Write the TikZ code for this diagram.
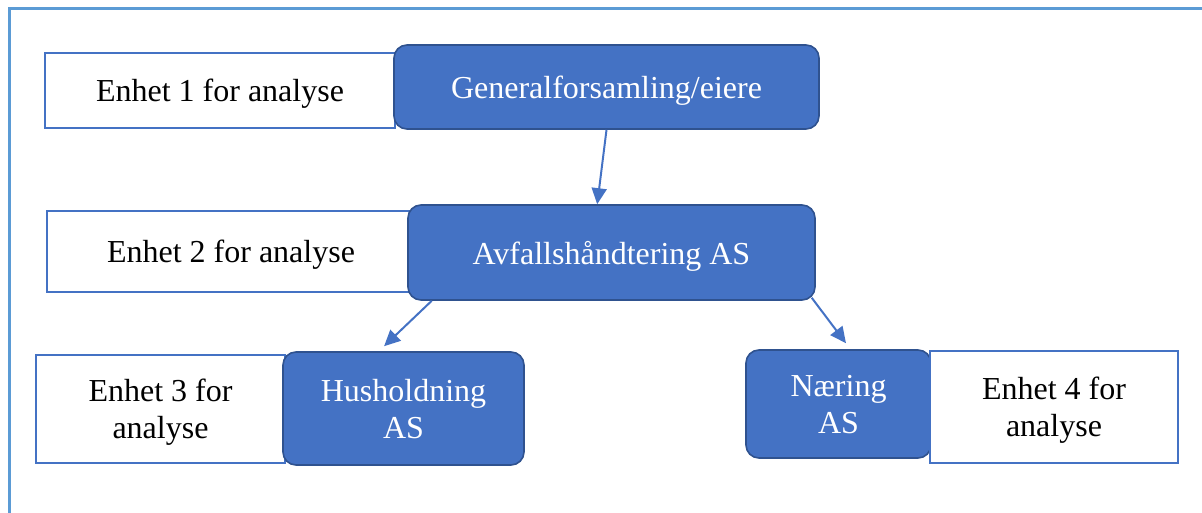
\documentclass[tikz,border=0pt]{standalone}
\usepackage{fontspec}
\setmainfont{Liberation Serif}
\usetikzlibrary{arrows.meta,calc}
\definecolor{frameblue}{HTML}{5B9BD5}
\definecolor{accent}{HTML}{4472C4}
\definecolor{accentdark}{HTML}{2F528F}
\tikzset{
  unitbox/.style={draw=accent, line width=2pt, fill=white, rectangle, inner sep=0pt,
    font=\fontsize{32}{37}\selectfont, text=black, align=center, text depth=0pt},
  orgbox/.style={draw=accentdark, line width=1.6pt, fill=accent, rectangle, rounded corners=13pt,
    inner sep=0pt, font=\fontsize{32}{37}\selectfont, text=white, align=center, text depth=0pt},
  link/.style={draw=accent, line width=2pt, -{Triangle[length=16pt,width=15pt]}}
}
\newcommand{\boxat}[7]{% name, style, x1,y1,x2,y2, text
  \node[#2, minimum width={(#5-#3)*1pt}, minimum height={(#6-#4)*1pt}] (#1) at ({(#3+#5)/2},{(#4+#6)/2}) {#7};}
\begin{document}
\begin{tikzpicture}[x=1pt,y=-1pt]
\useasboundingbox (0,0) rectangle (1202,513);
\draw[frameblue, line width=3pt] (9,515) -- (9,9) -- (1204,9);
% row 1
\boxat{u1}{unitbox}{45}{53}{395}{128}{Enhet 1 for analyse}
\boxat{g}{orgbox}{394}{45}{819}{129}{Generalforsamling/eiere}
% row 2
\boxat{u2}{unitbox}{47}{211}{415}{292}{Enhet 2 for analyse}
\boxat{a}{orgbox}{408}{205}{815}{300}{Avfallshåndtering AS}
% row 3 left
\boxat{u3}{unitbox}{36}{355}{285}{463}{Enhet 3 for\\analyse}
\boxat{h}{orgbox}{283}{352}{524}{465}{Husholdning\\AS}
% row 3 right
\boxat{n}{orgbox}{746}{350}{931}{458}{Næring\\AS}
\boxat{u4}{unitbox}{930}{351}{1178}{463}{Enhet 4 for\\analyse}
% connectors
\draw[link] ($(g.south west)!0.50!(g.south east)$) -- ($(a.north west)!0.465!(a.north east)$);
\draw[link] ($(a.south west)!0.06!(a.south east)$) -- ($(h.north west)!0.42!(h.north east)+(0,-5)$);
\draw[link] ($(a.south west)!0.99!(a.south east)+(0,-3)$) -- ($(n.north west)!0.54!(n.north east)+(0,-6)$);
\end{tikzpicture}
\end{document}
